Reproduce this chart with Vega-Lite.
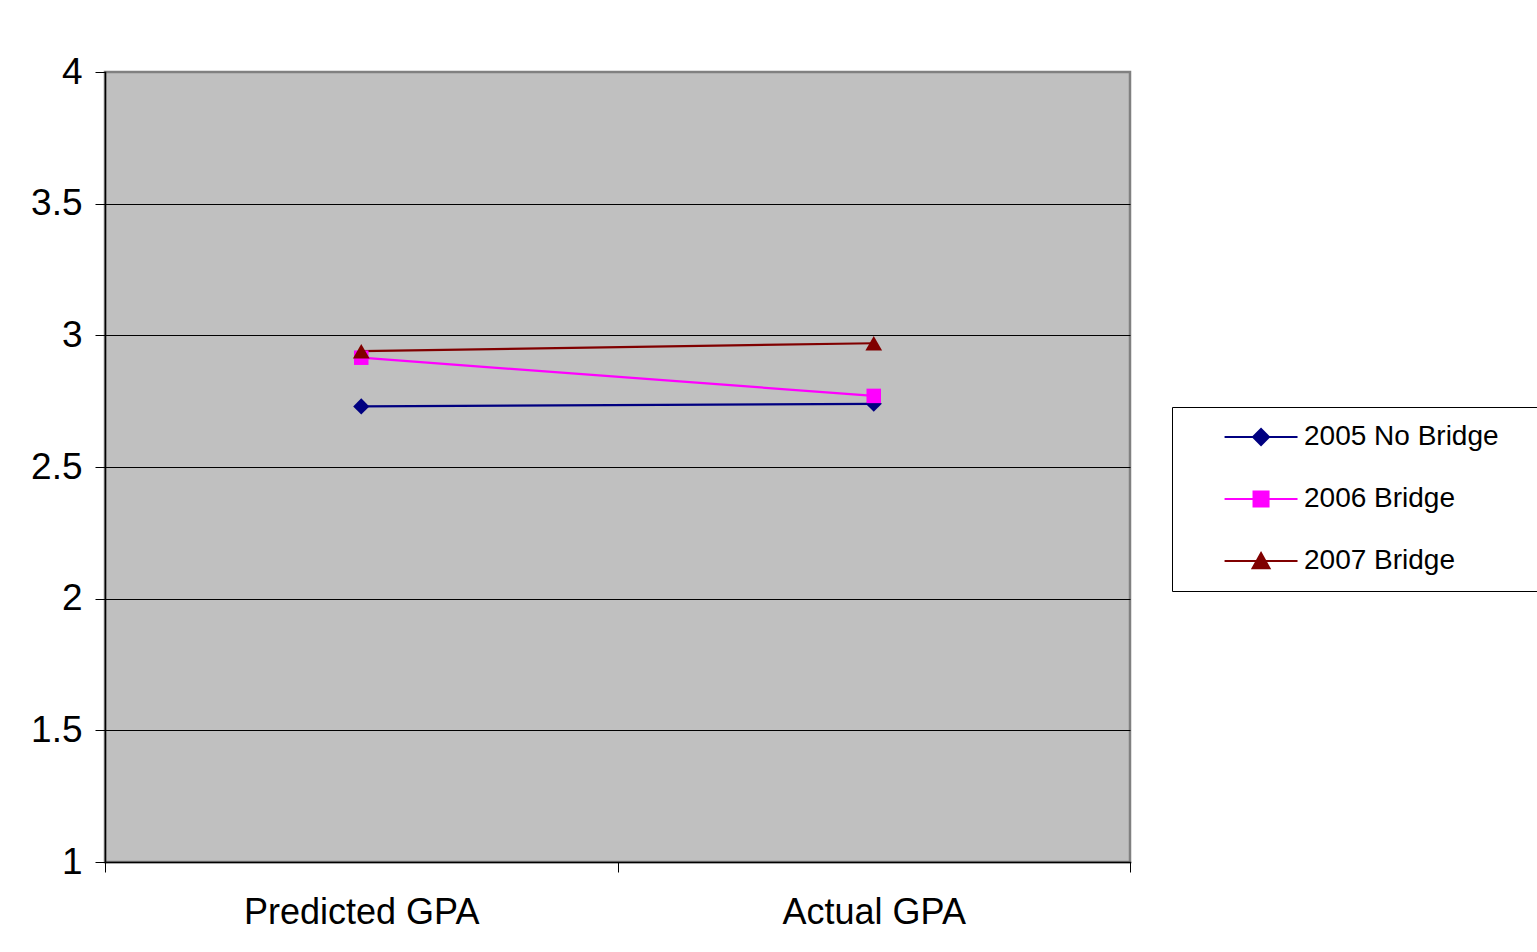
{
  "$schema": "https://vega.github.io/schema/vega-lite/v6.json",
  "width": 1025,
  "height": 790,
  "autosize": "none",
  "padding": {"left": 105, "top": 72, "right": 407, "bottom": 90},
  "background": "white",
  "data": {
    "values": [
      {"series": "2005 No Bridge", "measure": "Predicted GPA", "gpa": 2.73},
      {"series": "2005 No Bridge", "measure": "Actual GPA", "gpa": 2.74},
      {"series": "2006 Bridge", "measure": "Predicted GPA", "gpa": 2.915},
      {"series": "2006 Bridge", "measure": "Actual GPA", "gpa": 2.77},
      {"series": "2007 Bridge", "measure": "Predicted GPA", "gpa": 2.94},
      {"series": "2007 Bridge", "measure": "Actual GPA", "gpa": 2.97}
    ]
  },
  "encoding": {
    "x": {
      "field": "measure",
      "type": "nominal",
      "sort": ["Predicted GPA", "Actual GPA"],
      "scale": {"paddingInner": 0, "paddingOuter": 0},
      "axis": {
        "title": null,
        "labelAngle": 0,
        "tickBand": "extent",
        "tickSize": 10,
        "tickColor": "black",
        "domainColor": "black",
        "domainWidth": 1.5,
        "labelFont": "Liberation Sans",
        "labelFontSize": 36,
        "labelColor": "black",
        "labelLimit": 500,
        "labelPadding": 23,
        "grid": false
      }
    },
    "y": {
      "field": "gpa",
      "type": "quantitative",
      "scale": {"domain": [1, 4], "nice": false, "zero": false},
      "axis": {
        "title": null,
        "values": [1, 1.5, 2, 2.5, 3, 3.5, 4],
        "format": ".1~f",
        "tickSize": 10,
        "tickColor": "black",
        "domainColor": "black",
        "domainWidth": 1.5,
        "grid": true,
        "gridColor": {"condition": {"test": "datum.value === 4", "value": "#808080"}, "value": "black"},
        "gridWidth": 1,
        "labelFont": "Liberation Sans",
        "labelFontSize": 37,
        "labelColor": "black",
        "labelPadding": 13
      }
    }
  },
  "layer": [
    {
      "mark": {"type": "line", "strokeWidth": 2.2},
      "encoding": {
        "color": {
          "field": "series",
          "type": "nominal",
          "scale": {
            "domain": ["2005 No Bridge", "2006 Bridge", "2007 Bridge"],
            "range": ["#000080", "#FF00FF", "#800000"]
          },
          "legend": {
            "title": " ",
            "titleOrient": "right",
            "titlePadding": 45,
            "orient": "none",
            "legendX": 1067,
            "legendY": 335,
            "strokeColor": "black",
            "fillColor": "white",
            "padding": 16,
            "labelFont": "Liberation Sans",
            "labelFontSize": 28,
            "labelColor": "black",
            "labelLimit": 400,
            "labelOffset": 88,
            "rowPadding": 34,
            "symbolSize": 256,
            "symbolStrokeWidth": 2,
            "encode": {
              "symbols": {
                "update": {
                  "shape": {"signal": "datum.value === '2005 No Bridge' ? 'M2.82,0H11.94M6.38,0L7.38,-1L8.38,0L7.38,1Z' : datum.value === '2006 Bridge' ? 'M2.82,0H11.94M6.44,-0.94H8.32V0.94H6.44Z' : 'M2.82,0H11.94M6.32,0.9L7.38,-1L8.44,0.9Z'"},
                  "fill": {"signal": "datum.value === '2005 No Bridge' ? '#000080' : datum.value === '2006 Bridge' ? '#FF00FF' : '#800000'"},
                  "strokeWidth": {"value": 2},
                  "opacity": {"value": 1}
                }
              }
            }
          }
        }
      }
    },
    {
      "transform": [{"filter": "datum.series === '2005 No Bridge'"}],
      "mark": {"type": "point", "filled": true, "opacity": 1, "shape": "diamond", "size": 260},
      "encoding": {"color": {"field": "series", "type": "nominal", "legend": null}}
    },
    {
      "transform": [{"filter": "datum.series === '2006 Bridge'"}],
      "mark": {"type": "point", "filled": true, "opacity": 1, "shape": "square", "size": 210},
      "encoding": {"color": {"field": "series", "type": "nominal", "legend": null}}
    },
    {
      "transform": [{"filter": "datum.series === '2007 Bridge'"}],
      "mark": {"type": "point", "filled": true, "opacity": 1, "shape": "triangle-up", "size": 280},
      "encoding": {"color": {"field": "series", "type": "nominal", "legend": null}}
    }
  ],
  "config": {
    "view": {"fill": "#C0C0C0", "stroke": "#808080", "strokeWidth": 2.5},
    "axis": {"domainCap": "square"}
  }
}
